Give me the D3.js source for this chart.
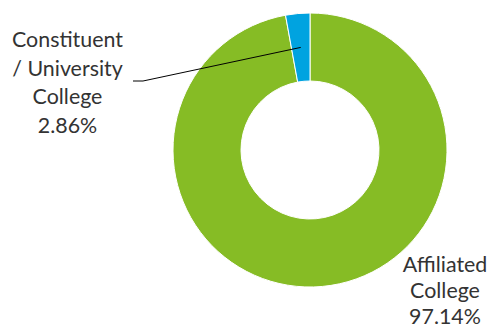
<!DOCTYPE html>
<html><head><meta charset="utf-8">
<script src="https://cdn.jsdelivr.net/npm/d3@7"></script>
<style>body{margin:0;background:#fff}svg{display:block}</style>
</head><body>
<svg id="c" width="492" height="329"></svg>
<script>
const categories = ["Affiliated College", "Constituent / University College"];
const values = [97.14, 2.86];
const labels = [["Affiliated", "College", "97.14%"], ["Constituent", "/ University", "College", "2.86%"]];
const colors = ["#86BC25", "#00A3E0"];

const svg = d3.select("#c");
const cx = 310, cy = 150, R = 137, r = 69;
const g = svg.append("g").attr("transform", `translate(${cx},${cy})`);
const pie = d3.pie().sort(null).value(d => d).startAngle(0).endAngle(2*Math.PI);
const arcs = pie(values);
const arc = d3.arc().innerRadius(r).outerRadius(R);
g.selectAll("path").data(arcs).join("path")
  .attr("d", arc).attr("fill", (d,i) => colors[i])
  .attr("stroke", "#fff").attr("stroke-width", 1);

// leader line
const mid = arcs[1];
const ma = (mid.startAngle + mid.endAngle)/2;
const pr = (R + r)/2;
const px = cx + pr*Math.sin(ma), py = cy - pr*Math.cos(ma);
svg.append("polyline")
  .attr("points", `133,81 143,81 ${px},${py}`)
  .attr("fill", "none").attr("stroke", "#000").attr("stroke-width", 1);

const font = "Lato, 'Open Sans', sans-serif";
// fit font size so that "Constituent" is ~111px wide
const probe = svg.append("text").attr("font-family", font).attr("font-size", 20).text("Constituent");
const fs = 20 * 111 / probe.node().getComputedTextLength();
probe.remove();
function drawLabel(lines, x, y0, dy) {
  const t = svg.append("text").attr("text-anchor", "middle")
    .attr("font-family", font).attr("font-size", fs).attr("fill", "#333");
  lines.forEach((s, i) => t.append("tspan").attr("x", x).attr("y", y0 + i*dy).text(s));
  return t;
}
drawLabel(labels[1], 67.5, 47, 28.5);
drawLabel(labels[0], 445, 272, 26);
</script>
</body></html>
